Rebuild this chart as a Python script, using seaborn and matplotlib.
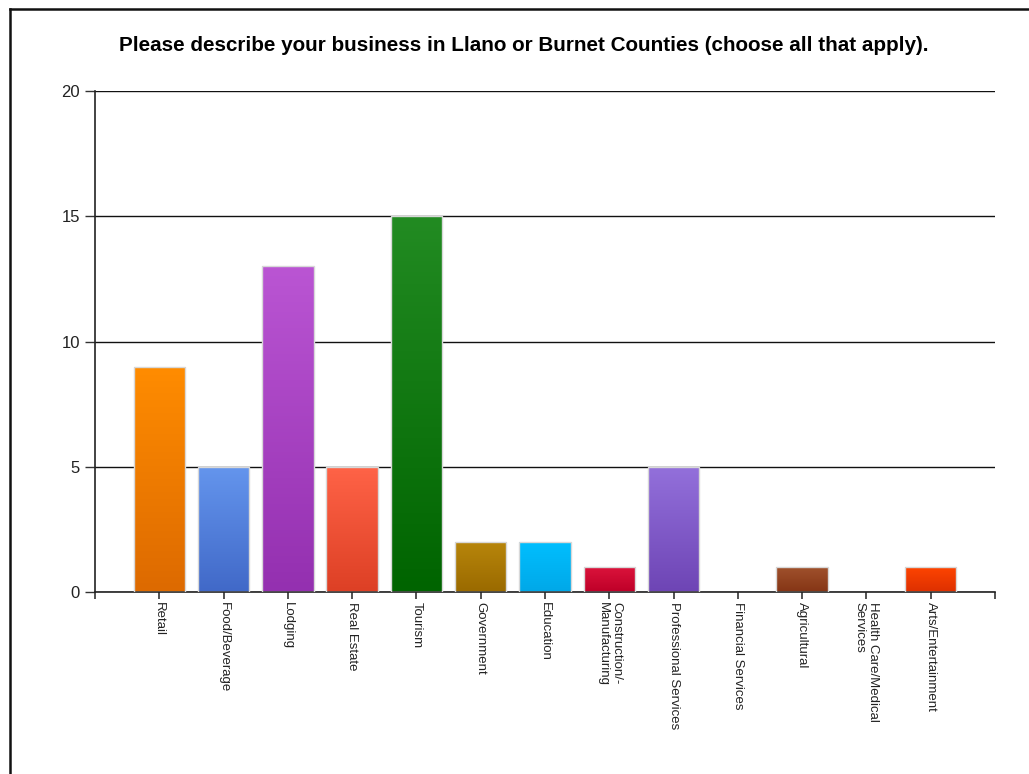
import numpy as np
import pandas as pd
import matplotlib
matplotlib.use("Agg")
import matplotlib.pyplot as plt
from matplotlib.colors import LinearSegmentedColormap
from matplotlib.lines import Line2D
import seaborn as sns

categories = ["Retail", "Food/Beverage", "Lodging", "Real Estate", "Tourism",
              "Government", "Education", "Construction/-\nManufacturing",
              "Professional Services", "Financial Services", "Agricultural",
              "Health Care/Medical\nServices", "Arts/Entertainment"]
counts = [9, 5, 13, 5, 15, 2, 2, 1, 5, 0, 1, 0, 1]
y_ticks = [0, 5, 10, 15, 20]

# top / bottom colours of each bar's gradient
top_colors = ["#FF8C00", "#6495ED", "#BA55D3", "#FF6347", "#228B22", "#B8860B",
              "#00BFFF", "#DC143C", "#9370DB", "#4682B4", "#A0522D", "#2E8B57",
              "#FF4500"]
bottom_colors = ["#DD6A00", "#4169C8", "#9430B0", "#DD4025", "#006400", "#9A6A00",
                 "#00A8E8", "#BE0028", "#6E45B5", "#2F6090", "#853515", "#1E6B40",
                 "#DD3000"]

df = pd.DataFrame({"category": categories, "count": counts})

plt.rcParams["font.family"] = ["Liberation Sans", "DejaVu Sans"]

fig = plt.figure(figsize=(10.29, 7.74), dpi=100)
ax = fig.add_axes([0.0923, 0.2351, 0.8747, 0.6473])

sns.barplot(data=df, x="category", y="count", hue="category",
            palette=top_colors, legend=False, width=0.8, ax=ax,
            edgecolor="#D8D8D8", linewidth=1, zorder=3)

# vertical gradient inside each bar, clipped to the bar shape
for patch, c_top, c_bot in zip(ax.patches, top_colors, bottom_colors):
    h = patch.get_height()
    if h <= 0:
        patch.set_visible(False)
        continue
    x0 = patch.get_x()
    w = patch.get_width()
    cmap = LinearSegmentedColormap.from_list("g", [c_bot, c_top])
    grad = np.linspace(1, 0, 100).reshape(-1, 1)
    im = ax.imshow(grad, cmap=cmap, aspect="auto", extent=[x0, x0 + w, 0, h],
                   origin="upper", zorder=2.5, vmin=0, vmax=1)
    im.set_clip_path(patch)
    patch.set_facecolor("none")

ax.set_xlim(-1, 13)
ax.set_ylim(0, 20)
ax.set_yticks(y_ticks)
ax.set_xticks(range(-1, 14))
ax.set_xticklabels([""] + categories + [""], rotation=270, ha="center", va="top",
                   fontsize=9.5, color="#222222", multialignment="left")
ax.tick_params(axis="x", length=5, width=1.2, pad=2.5, color="#333333")
ax.tick_params(axis="y", length=7.2, width=1.0, pad=3.6, labelsize=12,
               labelcolor="#222222", color="#333333")

ax.yaxis.grid(True, color="#111111", linewidth=1.0, zorder=1)
ax.set_axisbelow(True)
ax.set_xlabel("")
ax.set_ylabel("")
for side in ["top", "right"]:
    ax.spines[side].set_visible(False)
for side in ["left", "bottom"]:
    ax.spines[side].set_color("#222222")
    ax.spines[side].set_linewidth(1.2)

fig.text(0.509, 0.941, "Please describe your business in Llano or Burnet Counties (choose all that apply).",
         ha="center", va="center", fontsize=14.9, fontweight="bold")

# outer frame of the screenshot
fig.add_artist(Line2D([9.5 / 1029, 9.5 / 1029], [0, 1 - 8.5 / 774],
                      color="#111111", linewidth=1.8))
fig.add_artist(Line2D([9.5 / 1029, 1], [1 - 8.5 / 774, 1 - 8.5 / 774],
                      color="#111111", linewidth=1.8))

fig.savefig("out.png", dpi=100)
